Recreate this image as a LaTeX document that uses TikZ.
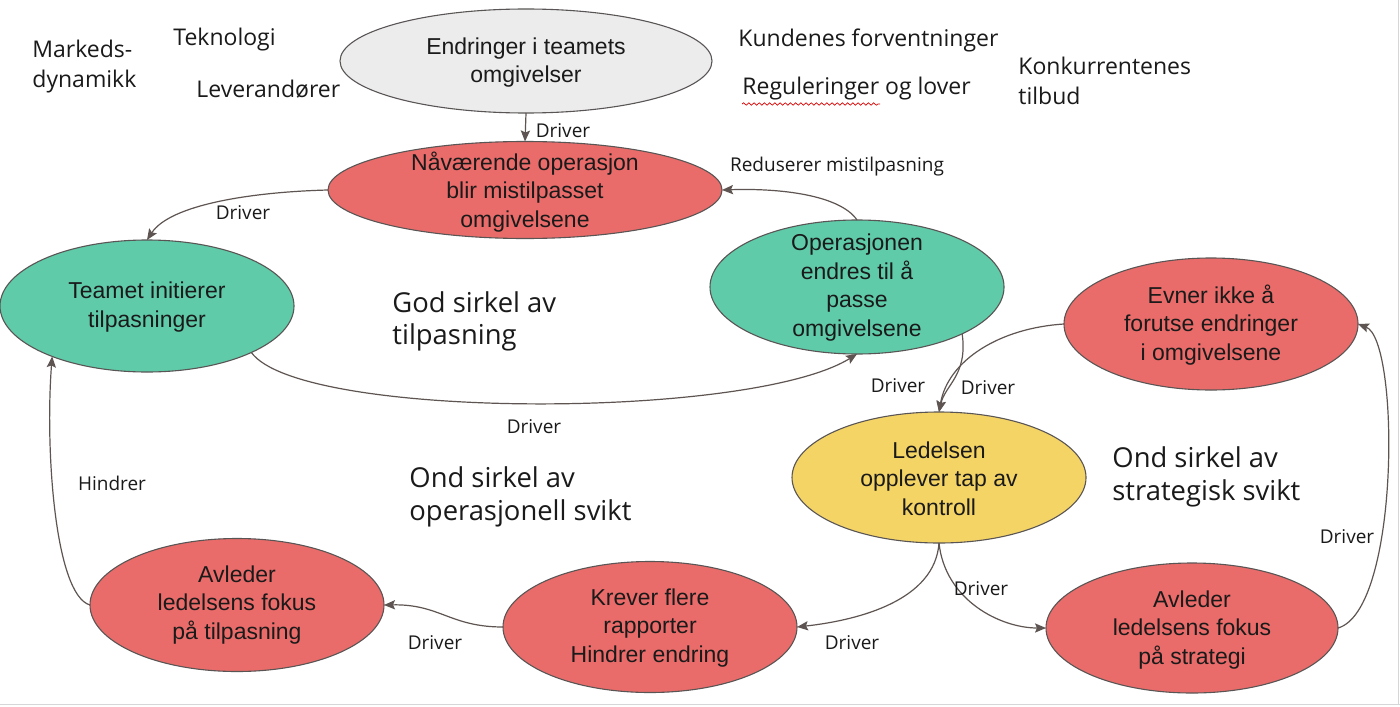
\documentclass[tikz,border=0pt]{standalone}
\usepackage{fontspec}
\setmainfont{Liberation Sans}
\newfontfamily\osans{Open Sans}
\usetikzlibrary{shapes.geometric,arrows.meta,decorations.pathmorphing}
\definecolor{cgrey}{HTML}{ECECEC}
\definecolor{cred}{HTML}{EA6C6A}
\definecolor{cteal}{HTML}{5FCBA9}
\definecolor{cyellow}{HTML}{F5D466}
\definecolor{cborder}{HTML}{5A5555}
\definecolor{carrow}{HTML}{5E5552}
\definecolor{ctext}{HTML}{1A1A1A}
\definecolor{cframe}{HTML}{D6D6D6}
\begin{document}
\begin{tikzpicture}[x=0.5pt,y=-0.5pt,
  ell/.style={ellipse, draw=cborder, line width=0.55pt, inner sep=0pt, outer sep=0pt},
  ntext/.style={font=\fontsize{11.5}{14.2}\selectfont, align=center, text=ctext, inner sep=0pt},
  freetext/.style={font=\osans\fontsize{11.5}{15}\selectfont, align=left, anchor=west, text=ctext, inner sep=0pt},
  bigtext/.style={font=\osans\fontsize{13.7}{16.3}\selectfont, align=left, anchor=west, text=ctext, inner sep=0pt},
  lbl/.style={font=\osans\fontsize{9.5}{11}\selectfont, text=ctext, inner sep=0pt},
  arr/.style={draw=carrow, line width=0.6pt, -{Stealth[length=5.5pt,width=4.6pt,inset=1pt]}}
]
\useasboundingbox (0,0) rectangle (1400,706);
\fill[white] (0,0) rectangle (1400,706);
\draw[cframe, line width=0.6pt] (0,704.5) -- (1400,704.5);
\draw[cframe, line width=0.6pt] (1398.5,0) -- (1398.5,704.5);

% ellipses
\node[ell, fill=cgrey, minimum width=186pt, minimum height=52pt] (e0) at (526,61) {};
\node[ell, fill=cred, minimum width=197pt, minimum height=48.5pt] (n1) at (525,190) {};
\node[ell, fill=cteal, minimum width=147pt, minimum height=66pt] (t) at (147,306) {};
\node[ell, fill=cteal, minimum width=147pt, minimum height=67pt] (o) at (857,287) {};
\node[ell, fill=cred, minimum width=147pt, minimum height=66pt] (ev) at (1211,324) {};
\node[ell, fill=cyellow, minimum width=147pt, minimum height=65.5pt] (l) at (939,477.5) {};
\node[ell, fill=cred, minimum width=147pt, minimum height=65.5pt] (k) at (650,627) {};
\node[ell, fill=cred, minimum width=147pt, minimum height=66.5pt] (at) at (237,605) {};
\node[ell, fill=cred, minimum width=146pt, minimum height=65pt] (as) at (1192,628) {};

% ellipse texts
\node[ntext] (e0t) at (526,62.5) {Endringer i teamets\\omgivelser};
\node[ntext] (n1t) at (525,192) {Nåværende operasjon\\blir mistilpasset\\omgivelsene};
\node[ntext] (tt) at (147,307) {Teamet initierer\\tilpasninger};
\node[ntext] (ot) at (857,287.5) {Operasjonen\\endres til å\\passe\\omgivelsene};
\node[ntext] (evt) at (1211,325) {Evner ikke å\\forutse endringer\\i omgivelsene};
\node[ntext] (lt) at (939,478.5) {Ledelsen\\opplever tap av\\kontroll};
\node[ntext] (kt) at (650,628) {Krever flere\\rapporter\\Hindrer endring};
\node[ntext] (att) at (237,605) {Avleder\\ledelsens fokus\\på tilpasning};
\node[ntext] (ast) at (1192,630) {Avleder\\ledelsens fokus\\på strategi};

% free texts
\node[freetext] (fmd) at (32,67) {Markeds-\\dynamikk};
\node[freetext] (ftek) at (173,40) {Teknologi};
\node[freetext] (flev) at (196,89) {Leverandører};
\node[freetext] (fkun) at (738,40) {Kundenes forventninger};
\node[freetext] (freg) at (742,89) {Reguleringer og lover};
\node[freetext] (fkon) at (1018,81) {Konkurrentenes\\tilbud};
\draw[red!85!black, line width=0.35pt, decorate, decoration={snake, amplitude=0.6pt, segment length=2.6pt}] (742,104) -- (880,104);

\node[bigtext] (god) at (392,321.5) {God sirkel av\\tilpasning};
\node[bigtext] (ondop) at (409,497) {Ond sirkel av\\operasjonell svikt};
\node[bigtext] (ondst) at (1112,477) {Ond sirkel av\\strategisk svikt};

% connectors
\draw[arr] (e0.south) -- (n1.north);
\draw[arr] (n1.west) .. controls (250,192) and (170,205) .. (t.north);
\draw[arr] (t.-24) .. controls (300,420) and (750,420) .. (o.south);
\draw[arr] (o.north) .. controls (840,195) and (780,188) .. (n1.east);
\draw[arr] (o.-24) .. controls (968,375) and (945,385) .. (l.north);
\draw[arr] (ev.west) .. controls (1000,328) and (948,360) .. (l.north);
\draw[arr] (l.south) .. controls (935,600) and (860,620) .. (k.east);
\draw[arr] (l.south) .. controls (945,600) and (1000,628) .. (as.west);
\draw[arr] (as.east) .. controls (1400,610) and (1400,340) .. (ev.east);
\draw[arr] (k.west) .. controls (450,627) and (440,604) .. (at.east);
\draw[arr] (at.west) .. controls (55,595) and (45,450) .. (t.208);

% connector labels
\node[lbl] (l1) at (563,131) {Driver};
\node[lbl] (l2) at (243,213) {Driver};
\node[lbl] (l3) at (534,427) {Driver};
\node[lbl] (l4) at (837,167) {Reduserer mistilpasning};
\node[lbl] (l5) at (898,386) {Driver};
\node[lbl] (l6) at (988,388) {Driver};
\node[lbl] (l7) at (852,643) {Driver};
\node[lbl] (l8) at (981,589) {Driver};
\node[lbl] (l9) at (1347,537) {Driver};
\node[lbl] (l10) at (435,643) {Driver};
\node[lbl] (l11) at (112,483) {Hindrer};
\end{tikzpicture}
\end{document}
